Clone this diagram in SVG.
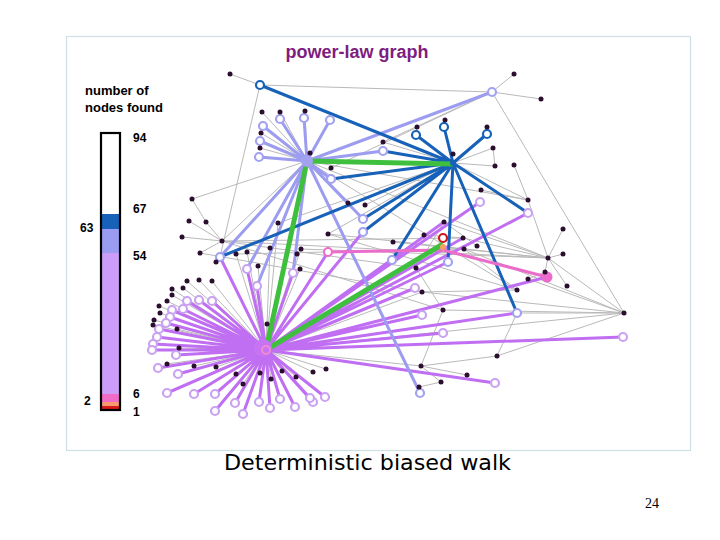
<svg xmlns="http://www.w3.org/2000/svg" width="720" height="540" viewBox="0 0 720 540">
<style>
.g{stroke:#b9b9b9;stroke-width:1;fill:none}
.pv{stroke:#9c9cf0;stroke-width:3;fill:none;stroke-linecap:round}
.db{stroke:#1762b8;stroke-width:3;fill:none;stroke-linecap:round}
.pu{stroke:#c06ef2;stroke-width:3;fill:none;stroke-linecap:round}
.pk{stroke:#ec6ccb;stroke-width:3;fill:none}
.gr{stroke:#3ec03e;stroke-width:5;fill:none;stroke-linejoin:miter}
.rdb{fill:#fff;stroke:#1762b8;stroke-width:2.2}
.rpv{fill:#fff;stroke:#a2a2f0;stroke-width:2.2}
.rpu{fill:#fff;stroke:#c9a2f2;stroke-width:2.2}
.rpk{fill:#fff;stroke:#ec6ccb;stroke-width:2.2}
.d{fill:#2b0d2e}
.lbl{font-family:"Liberation Sans",Arial,sans-serif;font-weight:bold;font-size:12px;fill:#000}
</style>
<rect x="66.5" y="36.5" width="624" height="414" fill="#fff" stroke="#cfe0e4" stroke-width="1.2"/>
<text x="357" y="58" text-anchor="middle" font-family="'Liberation Sans',Arial,sans-serif" font-weight="bold" font-size="18" fill="#7e1d80">power-law graph</text>
<text x="85" y="95" font-family="'Liberation Sans',Arial,sans-serif" font-weight="bold" font-size="13" fill="#000">number of</text>
<text x="85" y="112" font-family="'Liberation Sans',Arial,sans-serif" font-weight="bold" font-size="13" fill="#000">nodes found</text>
<g id="bar">
<rect x="101" y="214" width="19" height="15" fill="#1762b8"/>
<rect x="101" y="229" width="19" height="24" fill="#9a9cf2"/>
<rect x="101" y="253" width="19" height="141" fill="#cc9df8"/>
<rect x="101" y="394" width="19" height="8" fill="#f06ac8"/>
<rect x="101" y="402" width="19" height="4" fill="#f79a70"/>
<rect x="101" y="406" width="19" height="4" fill="#d81a1a"/>
<rect x="101" y="133" width="19" height="277" fill="none" stroke="#000" stroke-width="2.2"/>
</g>
<text class="lbl" x="133" y="142">94</text>
<text class="lbl" x="133" y="213">67</text>
<text class="lbl" x="80" y="232">63</text>
<text class="lbl" x="133" y="260">54</text>
<text class="lbl" x="84" y="405">2</text>
<text class="lbl" x="133" y="398">6</text>
<text class="lbl" x="133" y="416">1</text>
<g id="connectors">
<g id="gray-edges">
<path class="g" d="M230,74L260,85M260,85L492,92M260,85L220,257M492,92L514,74M492,92L541,99M492,92L624,313M492,92L307,161M492,92L383,142M492,92L331,168M262,112L307,161M280,112L307,161M305,111L307,161M261,133L307,161M260,148L307,161M310,153L307,161M307,161L528,200M307,161L548,258M307,161L517,290M307,161L222,241M307,161L192,199M453,163L493,148M453,163L495,166M493,148L495,166M514,165L528,200M481,190L528,200M528,200L548,258M528,200L453,163M548,258L563,229M548,258L563,254M548,258L567,286M548,258L624,313M548,258L393,242M548,258L328,234M548,258L444,222M548,258L463,238M545,272L548,258M624,313L517,313M624,313L443,310M624,313L497,356M624,313L528,279M528,279L545,272M517,313L497,356M421,366L443,310M443,310L416,268M416,268L444,222M421,366L467,375M421,366L441,382M441,382L419,387M266,350L421,366M421,366L497,356M222,241L189,221M222,241L206,222M222,241L182,237M222,241L200,253M192,199L206,222M222,241L443,310M222,241L416,268M222,241L463,238M222,241L548,258M220,257L216,262M328,234L453,163M424,235L463,238M444,222L477,246M464,249L624,313M365,205L453,163M348,203L307,161M383,142L453,163M417,127L416,135M445,120L444,127M487,127L487,134M422,292L517,290M422,292L624,313M517,290L464,249M328,234L517,290M301,249L548,258M278,223L453,163M236,254L464,249M200,253L422,292"/>
<path class="g" d="M266,350L187,281M266,350L199,280M266,350L212,281M266,350L172,289M266,350L183,288M266,350L172,295M266,350L167,301M266,350L159,306M266,350L160,313M266,350L154,320M266,350L153,325M266,350L177,329M266,350L267,324M266,350L278,223M266,350L270,248M266,350L301,249M266,350L247,252M266,350L236,254M266,350L258,266M266,350L300,269M266,350L297,254M266,350L179,348M266,350L167,364M266,350L194,366M266,350L216,367M266,350L236,374M266,350L260,373M266,350L243,384M266,350L271,379M266,350L282,371M266,350L296,377M266,350L313,372M266,350L326,369M266,350L422,292M266,350L624,313"/>
</g>
<g id="purple-edges">
<path class="pu" d="M266,350L528,213M266,350L480,202M266,350L415,288M266,350L422,315M266,350L443,333M266,350L623,337M266,350L495,383M266,350L313,402M266,350L325,397M266,350L247,269M266,350L257,286M266,350L293,273M266,350L187,301M266,350L199,300M266,350L212,301M266,350L183,309M266,350L172,310M266,350L170,317M266,350L166,323M266,350L159,329M266,350L157,337M266,350L153,344M266,350L152,350M266,350L176,355M266,350L158,368M266,350L178,374M266,350L167,393M266,350L194,394M266,350L215,394M266,350L215,411M266,350L235,403M266,350L243,414M266,350L259,402M266,350L270,408M266,350L280,399M266,350L295,407M266,350L310,398M266,350L363,232M266,350L392,260M266,350L220,257M266,350L547,277M266,350L517,313M266,350L444,222M266,350L463,238M266,350L448,262M266,350L328,252"/>
</g>
<g id="periwinkle-edges">
<path class="pv" d="M307,161L280,119M307,161L304,118M307,161L330,120M307,161L263,126M307,161L260,141M307,161L259,157M307,161L383,151M307,161L492,92M307,161L220,257M307,161L420,393M307,161L331,179M307,161L363,219M307,161L247,269M307,161L257,286M307,161L293,273M307,161L348,203"/>
</g>
<g id="blue-edges">
<path class="db" d="M453,163L260,85M453,163L416,135M453,163L444,127M453,163L487,134M453,163L528,213M453,163L517,313M453,163L448,262M453,163L392,260M453,163L363,232M453,163L363,219M453,163L331,179M453,163L383,151"/>
<path class="db" stroke-width="4" d="M453,163L220,257"/>
</g>
<g id="pink-edges">
<path class="pk" d="M328,252L443,250L547,277"/>
</g>
<g id="walk-path">
<path class="gr" d="M453,164L307,161L266,350L443,244"/>
</g>
</g>
<g id="hub1"><circle cx="307" cy="161" r="6" fill="#a2a2f0"/></g>
<g id="hub2"><circle cx="453" cy="163" r="3" fill="#1762b8"/></g>
<g id="hub3"><circle cx="263" cy="348" r="9" fill="#c774f4"/><circle cx="266" cy="350" r="4" fill="none" stroke="#f08ad0" stroke-width="2"/></g>
<g id="nodes-blue">
<g id="b1"><circle class="rdb" cx="260" cy="85" r="4"/></g>
<g id="b2"><circle class="rdb" cx="416" cy="135" r="4"/></g>
<g id="b3"><circle class="rdb" cx="444" cy="127" r="4"/></g>
<g id="b4"><circle class="rdb" cx="487" cy="134" r="4"/></g>
</g>
<g id="nodes-periwinkle">
<g id="p1"><circle class="rpv" cx="280" cy="119" r="4"/></g>
<g id="p2"><circle class="rpv" cx="304" cy="118" r="4"/></g>
<g id="p3"><circle class="rpv" cx="330" cy="120" r="4"/></g>
<g id="p4"><circle class="rpv" cx="263" cy="126" r="4"/></g>
<g id="p5"><circle class="rpv" cx="260" cy="141" r="4"/></g>
<g id="p6"><circle class="rpv" cx="259" cy="157" r="4"/></g>
<g id="p7"><circle class="rpv" cx="383" cy="151" r="4"/></g>
<g id="p8"><circle class="rpv" cx="492" cy="92" r="4"/></g>
<g id="p9"><circle class="rpv" cx="220" cy="257" r="4"/></g>
<g id="p10"><circle class="rpv" cx="420" cy="393" r="4"/></g>
<g id="p11"><circle class="rpv" cx="331" cy="179" r="4"/></g>
<g id="p12"><circle class="rpv" cx="363" cy="219" r="4"/></g>
<g id="p13"><circle class="rpv" cx="363" cy="232" r="4"/></g>
<g id="p14"><circle class="rpv" cx="392" cy="260" r="4"/></g>
<g id="p15"><circle class="rpv" cx="448" cy="262" r="4"/></g>
<g id="p16"><circle class="rpv" cx="517" cy="313" r="4"/></g>
</g>
<g id="nodes-lavender">
<g id="u1"><circle class="rpu" cx="528" cy="213" r="4"/></g>
<g id="u2"><circle class="rpu" cx="480" cy="202" r="4"/></g>
<g id="u3"><circle class="rpu" cx="415" cy="288" r="4"/></g>
<g id="u4"><circle class="rpu" cx="422" cy="315" r="4"/></g>
<g id="u5"><circle class="rpu" cx="443" cy="333" r="4"/></g>
<g id="u6"><circle class="rpu" cx="623" cy="337" r="4"/></g>
<g id="u7"><circle class="rpu" cx="495" cy="383" r="4"/></g>
<g id="u8"><circle class="rpu" cx="313" cy="402" r="4"/></g>
<g id="u9"><circle class="rpu" cx="325" cy="397" r="4"/></g>
<g id="u10"><circle class="rpu" cx="247" cy="269" r="4"/></g>
<g id="u11"><circle class="rpu" cx="257" cy="286" r="4"/></g>
<g id="u12"><circle class="rpu" cx="293" cy="273" r="4"/></g>
<g id="u13"><circle class="rpu" cx="187" cy="301" r="4"/></g>
<g id="u14"><circle class="rpu" cx="199" cy="300" r="4"/></g>
<g id="u15"><circle class="rpu" cx="212" cy="301" r="4"/></g>
<g id="u16"><circle class="rpu" cx="183" cy="309" r="4"/></g>
<g id="u17"><circle class="rpu" cx="172" cy="310" r="4"/></g>
<g id="u18"><circle class="rpu" cx="170" cy="317" r="4"/></g>
<g id="u19"><circle class="rpu" cx="166" cy="323" r="4"/></g>
<g id="u20"><circle class="rpu" cx="159" cy="329" r="4"/></g>
<g id="u21"><circle class="rpu" cx="157" cy="337" r="4"/></g>
<g id="u22"><circle class="rpu" cx="153" cy="344" r="4"/></g>
<g id="u23"><circle class="rpu" cx="152" cy="350" r="4"/></g>
<g id="u24"><circle class="rpu" cx="176" cy="355" r="4"/></g>
<g id="u25"><circle class="rpu" cx="158" cy="368" r="4"/></g>
<g id="u26"><circle class="rpu" cx="178" cy="374" r="4"/></g>
<g id="u27"><circle class="rpu" cx="167" cy="393" r="4"/></g>
<g id="u28"><circle class="rpu" cx="194" cy="394" r="4"/></g>
<g id="u29"><circle class="rpu" cx="215" cy="394" r="4"/></g>
<g id="u30"><circle class="rpu" cx="215" cy="411" r="4"/></g>
<g id="u31"><circle class="rpu" cx="235" cy="403" r="4"/></g>
<g id="u32"><circle class="rpu" cx="243" cy="414" r="4"/></g>
<g id="u33"><circle class="rpu" cx="259" cy="402" r="4"/></g>
<g id="u34"><circle class="rpu" cx="270" cy="408" r="4"/></g>
<g id="u35"><circle class="rpu" cx="280" cy="399" r="4"/></g>
<g id="u36"><circle class="rpu" cx="295" cy="407" r="4"/></g>
<g id="u37"><circle class="rpu" cx="310" cy="398" r="4"/></g>
</g>
<g id="k1"><circle class="rpk" cx="328" cy="252" r="4"/></g>
<g id="k2"><circle cx="547" cy="277" r="5.5" fill="#ec6ccb"/></g>
<g id="start"><circle cx="443" cy="247" r="3" fill="#f5a060"/><circle cx="443" cy="238" r="4" fill="#fff" stroke="#cc1a1a" stroke-width="2.2"/></g>
<g id="dots" class="d">
<circle cx="230" cy="74" r="2.5"/><circle cx="514" cy="74" r="2.5"/><circle cx="541" cy="99" r="2.5"/><circle cx="262" cy="112" r="2.5"/><circle cx="280" cy="112" r="2.5"/><circle cx="305" cy="111" r="2.5"/><circle cx="261" cy="133" r="2.5"/><circle cx="260" cy="148" r="2.5"/><circle cx="310" cy="153" r="2.5"/><circle cx="331" cy="168" r="2.5"/><circle cx="383" cy="142" r="2.5"/><circle cx="417" cy="127" r="2.5"/><circle cx="445" cy="120" r="2.5"/><circle cx="487" cy="127" r="2.5"/><circle cx="493" cy="148" r="2.5"/><circle cx="495" cy="166" r="2.5"/><circle cx="514" cy="165" r="2.5"/><circle cx="453" cy="154" r="2.5"/><circle cx="348" cy="203" r="2.5"/><circle cx="365" cy="205" r="2.5"/><circle cx="481" cy="190" r="2.5"/><circle cx="528" cy="200" r="2.5"/><circle cx="563" cy="229" r="2.5"/><circle cx="563" cy="254" r="2.5"/><circle cx="548" cy="258" r="2.5"/><circle cx="567" cy="286" r="2.5"/><circle cx="545" cy="272" r="2.5"/><circle cx="528" cy="279" r="2.5"/><circle cx="517" cy="290" r="2.5"/><circle cx="624" cy="313" r="2.5"/><circle cx="192" cy="199" r="2.5"/><circle cx="189" cy="221" r="2.5"/><circle cx="206" cy="222" r="2.5"/><circle cx="182" cy="237" r="2.5"/><circle cx="222" cy="241" r="2.5"/><circle cx="200" cy="253" r="2.5"/><circle cx="216" cy="262" r="2.5"/><circle cx="278" cy="223" r="2.5"/><circle cx="270" cy="248" r="2.5"/><circle cx="301" cy="249" r="2.5"/><circle cx="328" cy="234" r="2.5"/><circle cx="247" cy="252" r="2.5"/><circle cx="236" cy="254" r="2.5"/><circle cx="258" cy="266" r="2.5"/><circle cx="297" cy="254" r="2.5"/><circle cx="300" cy="269" r="2.5"/><circle cx="444" cy="222" r="2.5"/><circle cx="424" cy="235" r="2.5"/><circle cx="393" cy="242" r="2.5"/><circle cx="463" cy="238" r="2.5"/><circle cx="477" cy="246" r="2.5"/><circle cx="464" cy="249" r="2.5"/><circle cx="416" cy="268" r="2.5"/><circle cx="422" cy="292" r="2.5"/><circle cx="443" cy="310" r="2.5"/><circle cx="497" cy="356" r="2.5"/><circle cx="421" cy="366" r="2.5"/><circle cx="467" cy="375" r="2.5"/><circle cx="441" cy="382" r="2.5"/><circle cx="419" cy="387" r="2.5"/><circle cx="187" cy="281" r="2.5"/><circle cx="199" cy="280" r="2.5"/><circle cx="212" cy="281" r="2.5"/><circle cx="172" cy="289" r="2.5"/><circle cx="183" cy="288" r="2.5"/><circle cx="172" cy="295" r="2.5"/><circle cx="167" cy="301" r="2.5"/><circle cx="159" cy="306" r="2.5"/><circle cx="160" cy="313" r="2.5"/><circle cx="154" cy="320" r="2.5"/><circle cx="153" cy="325" r="2.5"/><circle cx="177" cy="329" r="2.5"/><circle cx="179" cy="348" r="2.5"/><circle cx="167" cy="364" r="2.5"/><circle cx="194" cy="366" r="2.5"/><circle cx="216" cy="367" r="2.5"/><circle cx="236" cy="374" r="2.5"/><circle cx="260" cy="373" r="2.5"/><circle cx="243" cy="384" r="2.5"/><circle cx="271" cy="379" r="2.5"/><circle cx="282" cy="371" r="2.5"/><circle cx="296" cy="377" r="2.5"/><circle cx="313" cy="372" r="2.5"/><circle cx="326" cy="369" r="2.5"/><circle cx="267" cy="324" r="2.5"/>
</g>
<text x="224" y="470" font-family="'DejaVu Sans',sans-serif" font-size="22" fill="#000" textLength="287" lengthAdjust="spacingAndGlyphs">Deterministic biased walk</text>
<text x="645" y="508" font-family="'Liberation Serif','Times New Roman',serif" font-size="14" fill="#000">24</text>
</svg>
